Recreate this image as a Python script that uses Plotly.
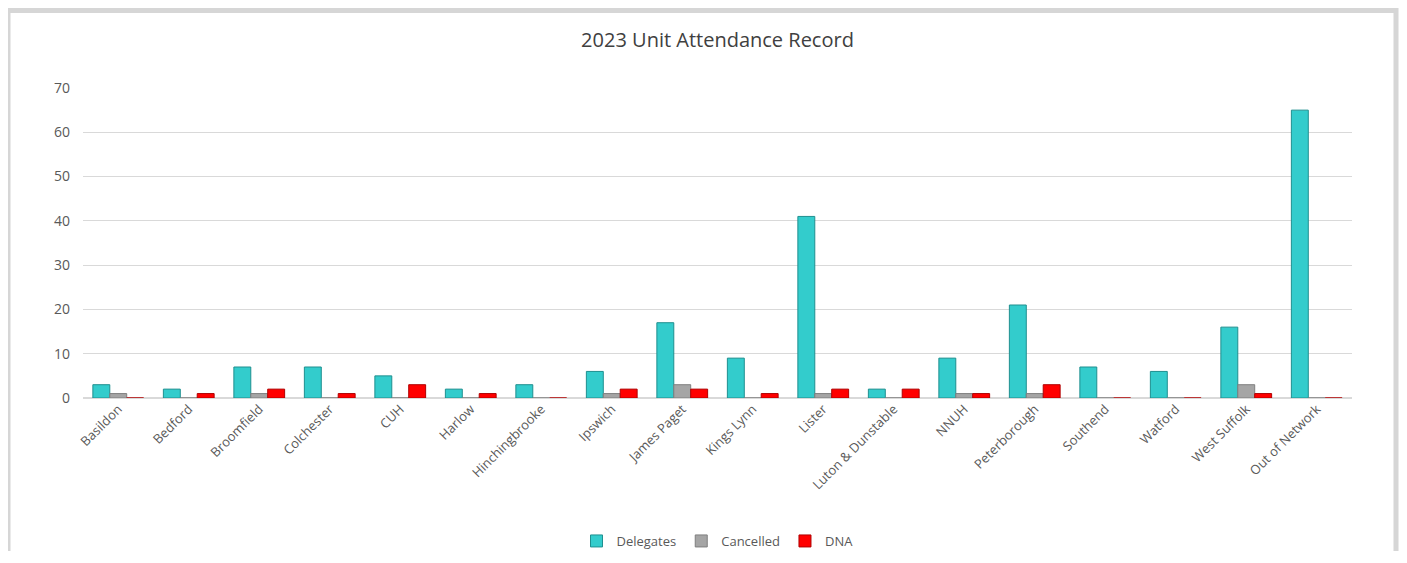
import plotly.graph_objects as go

units = ["Basildon", "Bedford", "Broomfield", "Colchester", "CUH", "Harlow",
         "Hinchingbrooke", "Ipswich", "James Paget", "Kings Lynn", "Lister",
         "Luton & Dunstable", "NNUH", "Peterborough", "Southend", "Watford",
         "West Suffolk", "Out of Network"]
delegates = [3, 2, 7, 7, 5, 2, 3, 6, 17, 9, 41, 2, 9, 21, 7, 6, 16, 65]
cancelled = [1, 0, 1, 0, 0, 0, 0, 1, 3, 0, 1, 0, 1, 1, 0, 0, 3, 0]
dna = [0, 1, 2, 1, 3, 1, 0, 2, 2, 1, 2, 2, 1, 3, 0, 0, 1, 0]

# the page puts the figure 8px in from the top left corner,
# keep it small enough that it is not clipped
W, H = 1391, 543
L, R, T, B = 75, 47, 80, 153
pw, ph = W - L - R, H - T - B

fig = go.Figure()
fig.add_trace(go.Bar(x=units, y=delegates, name="Delegates",
                     marker=dict(color="#33CCCC", line=dict(color="#1F8F8F", width=1))))
fig.add_trace(go.Bar(x=units, y=cancelled, name="Cancelled",
                     marker=dict(color="#A5A5A5", line=dict(color="#7F7F7F", width=1))))
fig.add_trace(go.Bar(x=units, y=dna, name="DNA",
                     marker=dict(color="#FF0000", line=dict(color="#B00000", width=1))))

fig.update_layout(
    width=W, height=H,
    margin=dict(l=L, r=R, t=T, b=B),
    paper_bgcolor="white", plot_bgcolor="white",
    font=dict(family="Open Sans", size=12, color="#595959"),
    title=dict(text="2023 Unit Attendance Record", x=0.5, xref="paper",
               y=1 - 32 / H, yanchor="middle",
               font=dict(size=20, color="#404040")),
    barmode="group", bargap=0.28, bargroupgap=0.0,
    legend=dict(orientation="h", x=0.5, xanchor="center", xref="paper",
                y=(H - 533) / H, yref="container", yanchor="middle",
                font=dict(size=13, color="#595959"), itemwidth=30),
    shapes=[dict(type="rect", xref="paper", yref="paper", layer="below",
                 x0=(0 - L) / pw, x1=(W - 3 - L) / pw,
                 y0=-250 / ph, y1=(ph + T - 2.5) / ph,
                 line=dict(color="#D6D6D6", width=5))],
)
fig.update_xaxes(tickangle=-45, showgrid=False, showline=False, ticks="",
                 tickfont=dict(size=13, color="#595959"))
fig.update_yaxes(range=[0, 70], dtick=10, showgrid=True, gridcolor="#D9D9D9",
                 gridwidth=1, zeroline=True, zerolinecolor="#D9D9D9",
                 ticks="", ticklabelstandoff=12,
                 tickfont=dict(size=14, color="#595959"))

fig.write_html("out.html")
